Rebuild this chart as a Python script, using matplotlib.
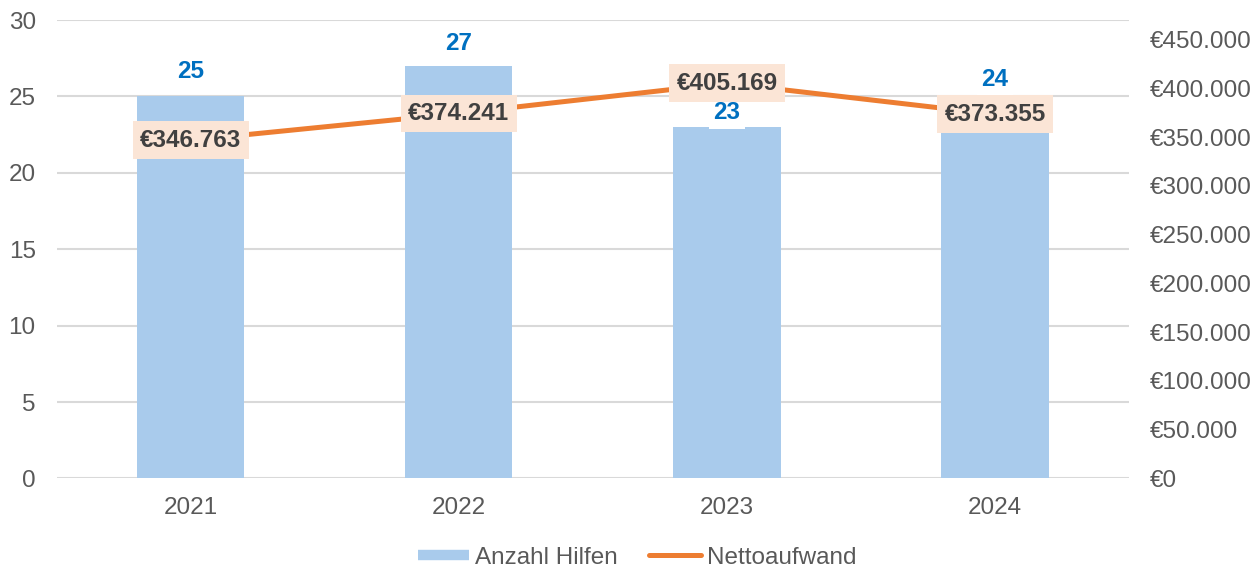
import matplotlib
matplotlib.use("Agg")
import matplotlib.pyplot as plt
from matplotlib.lines import Line2D
import numpy as np

# ==========================================
# DATEN
# ==========================================

jahre = ["2021", "2022", "2023", "2024"]
anzahl_hilfen = [25, 27, 23, 24]
nettoaufwand = [346763, 374241, 405169, 373355]

links_ticks = [0, 5, 10, 15, 20, 25, 30]
rechts_ticks = [0, 50000, 100000, 150000, 200000, 250000, 300000, 350000, 400000, 450000]

# Abstand der blauen Labels ueber dem Balken (Punkte)
label_abstand = [18, 16, 10.5, 23]

plt.rcParams["font.family"] = ["Liberation Sans", "DejaVu Sans"]

farbe_balken = "#A9CBEC"
farbe_linie = "#ED7D31"
farbe_text = "#595959"


def euro(v):
    return "€" + f"{v:,.0f}".replace(",", ".")


# ==========================================
# PLOT
# ==========================================

fig = plt.figure(figsize=(12.59, 5.72), dpi=100)
ax = fig.add_axes([0.0449, 0.1635, 0.852, 0.8015])
ax2 = ax.twinx()

x = np.arange(len(jahre))

ax.bar(x, anzahl_hilfen, width=0.4, color=farbe_balken, zorder=2)
ax.set_xlim(-0.5, 3.5)
ax.set_ylim(0, 30)
ax.set_yticks(links_ticks)
ax.set_xticks(x)
ax.set_xticklabels(jahre)
ax.yaxis.grid(True, color="#D9D9D9", linewidth=1.5, zorder=0)
ax.set_axisbelow(True)

ax2.plot(x, nettoaufwand, color=farbe_linie, linewidth=3.6,
         solid_capstyle="round", zorder=4)
ax2.set_ylim(0, 470000)
ax2.set_yticks(rechts_ticks)
ax2.set_yticklabels([euro(v) for v in rechts_ticks])

# Balken-Labels (ueber der Linie)
for i, v in enumerate(anzahl_hilfen):
    ax2.annotate(
        str(v), (x[i], v), xycoords=ax.transData,
        xytext=(0, label_abstand[i]),
        textcoords="offset points", ha="center", va="center",
        fontsize=17.5, fontweight="bold", color="#0070C0",
        bbox=dict(boxstyle="square,pad=0.2", fc="white", ec="none"),
        zorder=5,
    )

for i, v in enumerate(nettoaufwand):
    ax2.text(
        x[i], v, euro(v), ha="center", va="center",
        fontsize=17.5, fontweight="bold", color="#404040",
        bbox=dict(boxstyle="square,pad=0.3", fc="#FBE5D6", ec="none"),
        zorder=6,
    )

ax.set_zorder(ax2.get_zorder() - 1)
ax.patch.set_visible(False)

for a in (ax, ax2):
    for s in a.spines.values():
        s.set_visible(False)
    a.tick_params(length=0, labelsize=17.5, labelcolor=farbe_text)

ax.tick_params(axis="y", pad=15)
ax.tick_params(axis="x", pad=13)
ax2.tick_params(axis="y", pad=15)

# Legende

handles = [
    Line2D([0], [0], color=farbe_balken, linewidth=7.5, solid_capstyle="butt"),
    Line2D([0], [0], color=farbe_linie, linewidth=3.6, solid_capstyle="round"),
]

fig.legend(
    handles, ["Anzahl Hilfen", "Nettoaufwand"],
    loc="center", bbox_to_anchor=(0.506, 0.0245), ncol=2,
    frameon=False, fontsize=17.5, labelcolor=farbe_text,
    handlelength=2.1, handletextpad=0.25, columnspacing=1.3,
)

fig.savefig("out.png", dpi=100)
